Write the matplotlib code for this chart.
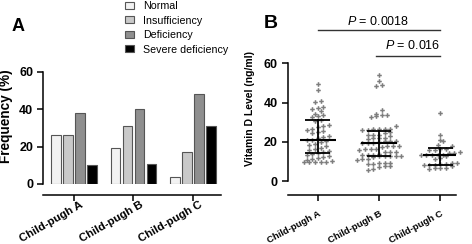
import matplotlib
matplotlib.use('Agg')
import matplotlib.pyplot as plt
import matplotlib.transforms as mtransforms
from matplotlib.patches import Patch
import numpy as np

plt.rcParams['font.family'] = ['Liberation Sans', 'DejaVu Sans']
plt.rcParams['mathtext.fontset'] = 'custom'
plt.rcParams['mathtext.it'] = 'Liberation Sans:italic'
plt.rcParams['mathtext.rm'] = 'Liberation Sans'

# ---- data ----
groups = ['Child-pugh A', 'Child-pugh B', 'Child-pugh C']
categories = ['Normal', 'Insufficiency', 'Deficiency', 'Severe deficiency']
freq_normal = [26, 19, 4]
freq_insufficiency = [26, 31, 17]
freq_deficiency = [38, 40, 48]
freq_severe = [10, 10.6, 31]
bar_colors = ['#f2f2f2', '#c9c9c9', '#8f8f8f', '#000000']

vitd_a = [49.5, 46.5, 41, 40.5, 37.5, 37, 36.5, 35.5, 34, 33.5, 33, 32.5, 31, 30.5,
          28.5, 28, 27.5, 26.5, 26, 25.5, 25, 24.5, 23, 22.5, 22, 21, 21, 20.5,
          20, 19, 18.5, 18, 17, 16.5, 16, 15.5, 15, 14.5, 14, 13, 12.5,
          12, 11.5, 11, 10.5, 10, 9.5, 9.5, 9.5, 9.5, 9.5]
vitd_b = [54, 51, 49, 48.5, 36, 34, 33.5, 33.5, 33, 32.5, 28, 26.5, 26.5, 26.5,
          26, 26, 26.5, 25, 24.5, 23.5, 23.5, 23.5, 23, 22, 22, 22, 21.5, 20.5,
          20.5, 20.5, 20, 19.5, 19.5, 19.5, 18, 18, 18, 17.5, 16.5, 16.5, 16.5,
          16, 15, 15, 15, 14, 13.5, 13.5, 13, 12.5, 12.5, 12.5, 12.5, 12.5, 12,
          11, 11, 10.5, 9, 9, 9, 8.5, 8.5, 7.5, 7.5, 7, 6, 5.5]
vitd_c = [34.5, 23.5, 21, 20.5, 18.5, 18, 16.5, 16.5, 16, 16, 15, 14.5, 14.5,
          13.5, 13.5, 13, 13, 13, 12.5, 11.5, 11, 9, 9, 8.5, 8.5, 8, 8, 8, 7.5,
          6.5, 6.5, 6.5, 6]
medians = [20.7, 19.5, 13.2]
q1 = [14.5, 12.8, 8.3]
q3 = [31, 25.5, 16.8]


def row_swarm(vals, bin_size, step):
    # GraphPad-like scatter: points falling in the same value bin form a centred row
    vals = np.asarray(vals, float)
    xs = np.zeros(len(vals))
    bins = np.floor(vals / bin_size).astype(int)
    for b in np.unique(bins):
        idx = np.where(bins == b)[0]
        idx = idx[np.argsort(vals[idx])]
        n = len(idx)
        for j, i in enumerate(idx):
            xs[i] = (j - (n - 1) / 2) * step
    return xs


def style_axis(ax, outward):
    for s in ('top', 'right'):
        ax.spines[s].set_visible(False)
    for s in ('left', 'bottom'):
        ax.spines[s].set_linewidth(1.1)
    ax.spines['bottom'].set_position(('outward', outward))
    ax.tick_params(axis='both', width=1.1, length=4, color='black')
    ax.tick_params(axis='y', labelsize=9, pad=3)


def set_labels(ax, rot, size, dx, dy):
    ax.set_yticks([0, 20, 40, 60])
    ax.set_yticklabels(['0', '20', '40', '60'], fontsize=9, fontweight='bold')
    ax.set_xticks(np.arange(len(groups)))
    ax.set_xticklabels(groups, rotation=rot, ha='right', va='top',
                       rotation_mode='anchor', fontsize=size, fontweight='bold')
    off = mtransforms.ScaledTranslation(dx / 100, dy / 100, fig.dpi_scale_trans)
    for t in ax.get_xticklabels():
        t.set_transform(t.get_transform() + off)


fig = plt.figure(figsize=(4.72, 2.44), dpi=100)

# ---- panel A ----
axA = fig.add_axes([43 / 472, 60 / 244, 178 / 472, 112.3 / 244])
style_axis(axA, 8)
x = np.arange(len(groups))
slot, width = 0.203, 0.163
series = [freq_normal, freq_insufficiency, freq_deficiency, freq_severe]
for k, vals in enumerate(series):
    axA.bar(x + (k - 1.5) * slot, vals, width, color=bar_colors[k],
            edgecolor='#555555', linewidth=0.8)
axA.set_xlim(-0.52, 2.47)
axA.set_ylim(0, 60)
set_labels(axA, 30, 8.2, 6, 6)
axA.set_ylabel('Frequency (%)', fontsize=9.8, fontweight='bold')
axA.yaxis.set_label_coords(-0.168, 0.6)

handles = [Patch(facecolor=c, edgecolor='#555555', linewidth=0.8) for c in bar_colors]
fig.legend(handles, categories, loc='upper left', bbox_to_anchor=(124 / 472, 1.0),
           frameon=False, fontsize=7.7, handlelength=0.85, handleheight=0.6,
           handletextpad=0.85, labelspacing=0.42, borderpad=0.1, borderaxespad=0)
fig.text(12 / 472, 1 - 31 / 244, 'A', fontsize=13, fontweight='bold')

# ---- panel B ----
axB = fig.add_axes([287.7 / 472, 63 / 244, 168.3 / 472, 117.7 / 244])
style_axis(axB, 10)
sx = 61.3  # px per group unit
for i, vals in enumerate([vitd_a, vitd_b, vitd_c]):
    offs = row_swarm(vals, 2.6, 5.6 / sx)
    axB.plot(i + offs, vals, linestyle='none', marker='P', markersize=3.3,
             color='#7d7d7d', markeredgewidth=0, clip_on=False)
    axB.plot([i - 0.29, i + 0.29], [medians[i]] * 2, color='black', lw=1.5,
             solid_capstyle='butt')
    axB.plot([i, i], [q1[i], q3[i]], color='black', lw=1.3)
    for q in (q1[i], q3[i]):
        axB.plot([i - 0.2, i + 0.2], [q, q], color='black', lw=1.3,
                 solid_capstyle='butt')
axB.set_xlim(-0.49, 2.256)
axB.set_ylim(0, 60)
set_labels(axB, 28, 6.8, 0, -4)
axB.set_ylabel('Vitamin D Level (ng/ml)', fontsize=7.5, fontweight='bold')
axB.yaxis.set_label_coords(-0.194, 0.616)

axB.plot([0, 2], [76.8, 76.8], color='#333333', lw=1.0, clip_on=False)
axB.text(0.98, 81.5, r'$\it{P}$ = 0.0018', ha='center', va='center', fontsize=9)
axB.plot([0.95, 2], [63.5, 63.5], color='#333333', lw=1.0, clip_on=False)
axB.text(1.55, 69.3, r'$\it{P}$ = 0.016', ha='center', va='center', fontsize=9)
fig.text(264 / 472, 1 - 28 / 244, 'B', fontsize=14, fontweight='bold')

fig.savefig('out.png', dpi=100)
